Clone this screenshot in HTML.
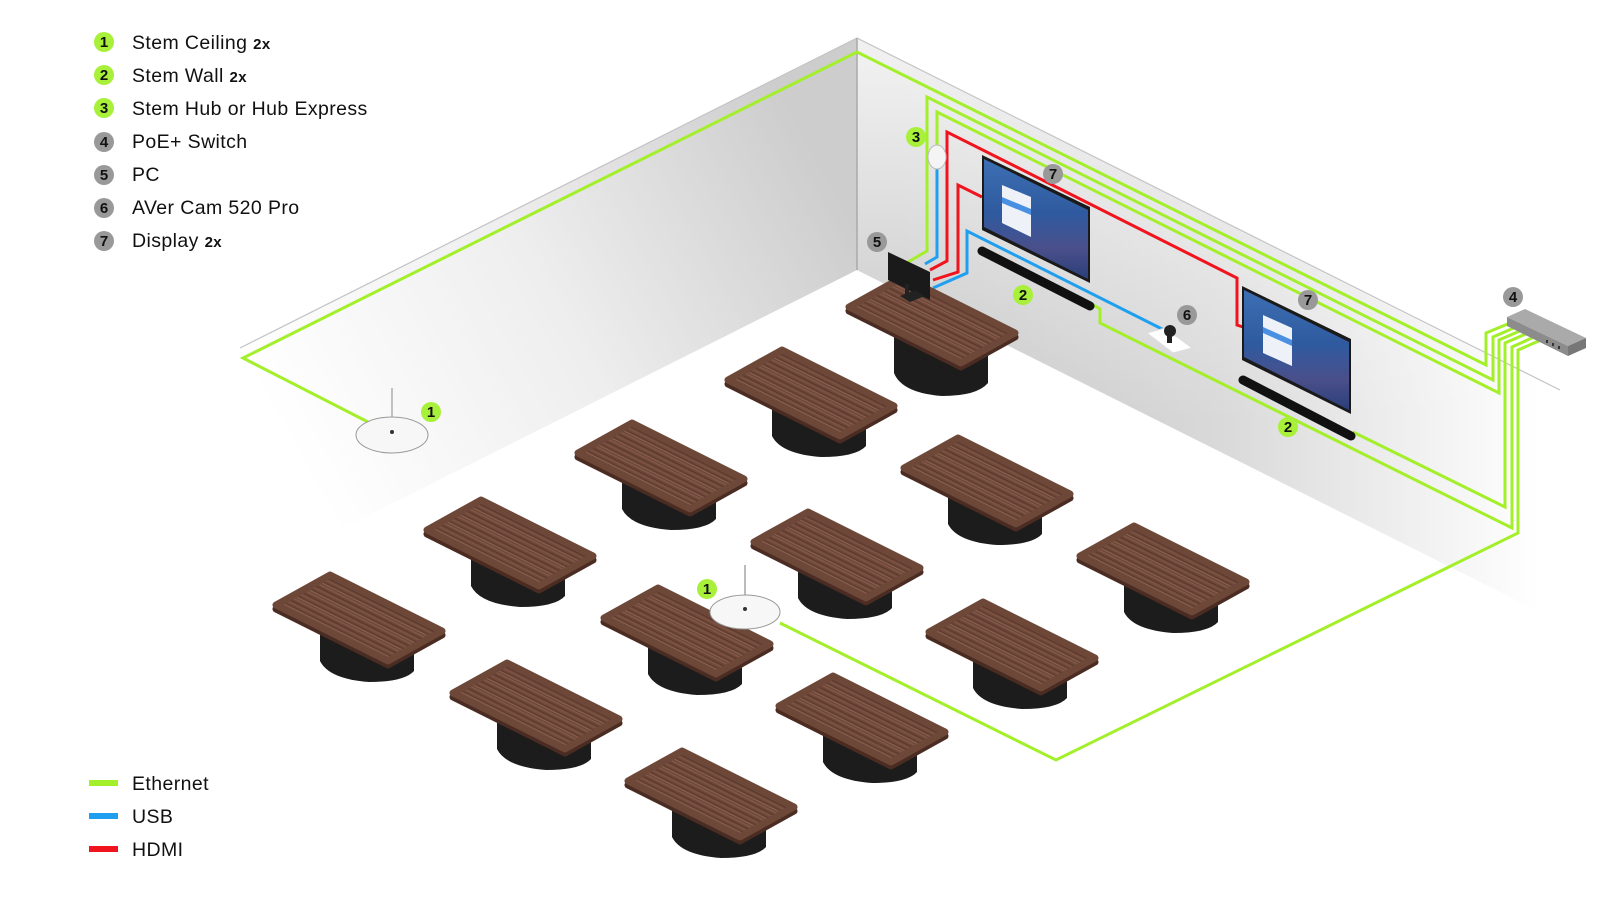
<!DOCTYPE html>
<html><head><meta charset="utf-8"><style>
html,body{margin:0;padding:0;background:#fff;}
svg{display:block;}
</style></head><body>
<svg width="1600" height="900" viewBox="0 0 1600 900" xmlns="http://www.w3.org/2000/svg" font-family="Liberation Sans, sans-serif">
<defs>
  <linearGradient id="lw" gradientUnits="userSpaceOnUse" x1="857" y1="230" x2="330" y2="520">
    <stop offset="0" stop-color="#cdcdcd"/><stop offset="0.5" stop-color="#eeeeee"/><stop offset="1" stop-color="#ffffff"/>
  </linearGradient>
  <linearGradient id="rw" gradientUnits="userSpaceOnUse" x1="900" y1="330" x2="1540" y2="330">
    <stop offset="0" stop-color="#c4c4c4"/><stop offset="0.5" stop-color="#d9d9d9"/><stop offset="1" stop-color="#ffffff"/>
  </linearGradient>
  <linearGradient id="rwTop" gradientUnits="userSpaceOnUse" x1="0" y1="60" x2="0" y2="420">
    <stop offset="0" stop-color="#fff" stop-opacity="0.75"/><stop offset="1" stop-color="#fff" stop-opacity="0"/>
  </linearGradient>
  <linearGradient id="scr" x1="0" y1="0" x2="0" y2="1">
    <stop offset="0" stop-color="#3d6fb3"/><stop offset="0.45" stop-color="#2f5aa0"/><stop offset="0.75" stop-color="#4a4f8a"/><stop offset="1" stop-color="#2a3f7a"/>
  </linearGradient>
  <pattern id="wood" patternUnits="userSpaceOnUse" width="40" height="12" patternTransform="rotate(26.6)">
    <rect width="40" height="12" fill="#6d4738"/>
    <rect y="1" width="40" height="1.2" fill="#85594a"/>
    <rect y="4" width="40" height="0.8" fill="#553428"/>
    <rect y="6" width="40" height="1.5" fill="#7d5242"/>
    <rect y="9" width="40" height="0.8" fill="#5a392c"/>
    <rect y="10.5" width="40" height="1" fill="#8b604f"/>
  </pattern>
  <g id="table">
    <path d="M -39,10 L -39,45 Q -30,63 10,66 Q 45,66 55,55 L 55,20 Z" fill="#1c1c1c"/>
    <path d="M -83,-11 L -29,-41 L 83,15 L 29,45 Z" transform="translate(0,4)" fill="#4a2c22" stroke="#4a2c22" stroke-width="7" stroke-linejoin="round"/>
    <path d="M -83,-11 L -29,-41 L 83,15 L 29,45 Z" fill="url(#wood)" stroke="#6d4738" stroke-width="7" stroke-linejoin="round"/>
  </g>
</defs>

<!-- walls -->
<polygon points="857,38 857,270 230,585 230,352" fill="url(#lw)"/>
<polygon points="857,38 1600,410 1600,642 857,270" fill="url(#rw)"/>
<polygon points="857,38 1600,410 1600,642 857,270" fill="url(#rwTop)"/>
<polyline points="240,348 857,38 1560,390" fill="none" stroke="#c4c4c4" stroke-width="1.2"/>
<line x1="857" y1="38" x2="857" y2="270" stroke="#aaa" stroke-width="1.5"/>

<!-- ethernet lines (green) -->
<g fill="none" stroke="#a3ef2a" stroke-width="3" stroke-linejoin="miter">
  <polyline points="368,422 243,358 857,52 1486,365 1486,333 1510,323"/>
  <polyline points="908,262 927,251 927,97 1493,380 1493,337 1516,327"/>
  <polyline points="937,146 937,112 1499,393 1499,340 1522,330"/>
  <polyline points="1353,432 1505,507 1505,343 1528,333"/>
  <polyline points="1090,303 1100,309 1100,323 1512,528 1512,347 1534,337"/>
  <polyline points="780,623 1056,760 1518,533 1518,350 1541,340"/>
</g>
<!-- HDMI -->
<g fill="none" stroke="#f0141e" stroke-width="3">
  <polyline points="930,270 947,261 947,132 1237,278 1237,325 1243,327"/>
  <polyline points="933,280 958,272 958,185 982,197"/>
</g>
<!-- USB -->
<g fill="none" stroke="#1e9ff0" stroke-width="3">
  <polyline points="937,168 937,257 925,264"/>
  <polyline points="933,288 967,273 967,231 1160,328 1166,331"/>
</g>

<!-- hub -->
<ellipse cx="937" cy="157" rx="9" ry="12" fill="#f4f4f4" stroke="#bbb" stroke-width="1"/>

<!-- display 1 -->
<polygon points="982,155 1090,207 1090,283 982,230" fill="#1a1a1a"/>
<polygon points="984,159 1088,210 1088,279 984,227" fill="url(#scr)"/>
<polygon points="1002,185 1031,197 1031,237 1002,223" fill="#eef2f8"/>
<polygon points="1002,197 1031,209 1031,215 1002,203" fill="#4a90e2"/>
<line x1="982" y1="251" x2="1090" y2="306" stroke="#111" stroke-width="9" stroke-linecap="round"/>

<!-- display 2 -->
<polygon points="1242,286 1351,339 1351,414 1242,360" fill="#1a1a1a"/>
<polygon points="1244,290 1349,342 1349,410 1244,357" fill="url(#scr)"/>
<polygon points="1263,315 1292,328 1292,366 1263,353" fill="#eef2f8"/>
<polygon points="1263,327 1292,340 1292,346 1263,333" fill="#4a90e2"/>
<line x1="1243" y1="380" x2="1351" y2="436" stroke="#111" stroke-width="9" stroke-linecap="round"/>

<!-- camera -->
<polygon points="1147,333 1165,328 1192,348 1173,353" fill="#fff" stroke="#ddd" stroke-width="1"/>
<ellipse cx="1170" cy="331" rx="6" ry="6" fill="#222"/>
<rect x="1167" y="335" width="5" height="8" fill="#222"/>

<!-- switch -->
<polygon points="1507,317 1525,309 1586,338 1568,346" fill="#aaaaaa"/>
<polygon points="1507,317 1568,346 1568,356 1507,326" fill="#8c8c8c"/>
<polygon points="1568,346 1586,338 1586,348 1568,356" fill="#777"/>
<g fill="#333">
  <rect x="1546" y="340" width="2" height="3"/><rect x="1552" y="343" width="2" height="3"/><rect x="1558" y="346" width="2" height="3"/>
</g>

<!-- ceiling mic 1 -->
<line x1="392" y1="388" x2="392" y2="432" stroke="#888" stroke-width="1"/>
<ellipse cx="392" cy="435" rx="36" ry="18" fill="#f7f7f7" stroke="#999" stroke-width="1"/>
<circle cx="392" cy="432" r="2" fill="#333"/>

<!-- PC table -->
<g transform="translate(932,318)">
  <path d="M -38,0 L -38,55 Q -30,75 10,78 Q 45,78 56,65 L 56,10 Z" fill="#1c1c1c"/>
  <path d="M -83,-11 L -29,-41 L 83,15 L 29,45 Z" transform="translate(0,4)" fill="#4a2c22" stroke="#4a2c22" stroke-width="7" stroke-linejoin="round"/>
  <path d="M -83,-11 L -29,-41 L 83,15 L 29,45 Z" fill="url(#wood)" stroke="#6d4738" stroke-width="7" stroke-linejoin="round"/>
</g>
<polygon points="888,252 930,272 930,300 888,280" fill="#1a1a1a"/>
<polygon points="900,296 915,290 925,296 910,302" fill="#222"/>
<rect x="905" y="284" width="4" height="12" fill="#222"/>

<!-- tables back to front -->
<use href="#table" x="811" y="391"/>
<use href="#table" x="661" y="464"/>
<use href="#table" x="987" y="479"/>
<use href="#table" x="510" y="541"/>
<use href="#table" x="837" y="553"/>
<use href="#table" x="1163" y="567"/>
<use href="#table" x="359" y="616"/>
<use href="#table" x="687" y="629"/>
<use href="#table" x="1012" y="643"/>
<use href="#table" x="536" y="704"/>
<use href="#table" x="862" y="717"/>
<use href="#table" x="711" y="792"/>

<!-- ceiling mic 2 -->
<line x1="745" y1="565" x2="745" y2="607" stroke="#777" stroke-width="1"/>
<ellipse cx="745" cy="612" rx="35" ry="17" fill="#f7f7f7" stroke="#999" stroke-width="1"/>
<circle cx="745" cy="609" r="2" fill="#333"/>

<!-- callout bubbles -->
<g font-weight="bold" font-size="15" text-anchor="middle">
  <g fill="#a8f03a">
    <circle cx="916" cy="137" r="10"/><circle cx="1023" cy="295" r="10"/><circle cx="1288" cy="427" r="10"/>
    <circle cx="431" cy="412" r="10"/><circle cx="707" cy="589" r="10"/>
  </g>
  <g fill="#999">
    <circle cx="877" cy="242" r="10"/><circle cx="1053" cy="174" r="10"/><circle cx="1187" cy="315" r="10"/>
    <circle cx="1308" cy="300" r="10"/><circle cx="1513" cy="297" r="10"/>
  </g>
  <g fill="#111">
    <text x="916" y="142">3</text><text x="1023" y="300">2</text><text x="1288" y="432">2</text>
    <text x="431" y="417">1</text><text x="707" y="594">1</text>
    <text x="877" y="247">5</text><text x="1053" y="179">7</text><text x="1187" y="320">6</text>
    <text x="1308" y="305">7</text><text x="1513" y="302">4</text>
  </g>
</g>

<!-- legend -->
<g font-size="15" font-weight="bold" text-anchor="middle">
  <circle cx="104" cy="42" r="10" fill="#a8f03a"/><text x="104" y="47" fill="#111">1</text>
  <circle cx="104" cy="75" r="10" fill="#a8f03a"/><text x="104" y="80" fill="#111">2</text>
  <circle cx="104" cy="108" r="10" fill="#a8f03a"/><text x="104" y="113" fill="#111">3</text>
  <circle cx="104" cy="142" r="10" fill="#999"/><text x="104" y="147" fill="#111">4</text>
  <circle cx="104" cy="175" r="10" fill="#999"/><text x="104" y="180" fill="#111">5</text>
  <circle cx="104" cy="208" r="10" fill="#999"/><text x="104" y="213" fill="#111">6</text>
  <circle cx="104" cy="241" r="10" fill="#999"/><text x="104" y="246" fill="#111">7</text>
</g>
<g font-size="19.5" fill="#111" letter-spacing="0.4">
  <text x="132" y="49">Stem Ceiling <tspan font-size="15" font-weight="bold">2x</tspan></text>
  <text x="132" y="82">Stem Wall <tspan font-size="15" font-weight="bold">2x</tspan></text>
  <text x="132" y="115">Stem Hub or Hub Express</text>
  <text x="132" y="148">PoE+ Switch</text>
  <text x="132" y="181">PC</text>
  <text x="132" y="214">AVer Cam 520 Pro</text>
  <text x="132" y="247">Display <tspan font-size="15" font-weight="bold">2x</tspan></text>
</g>
<rect x="89" y="780" width="29" height="6" fill="#a3ef2a"/>
<rect x="89" y="813" width="29" height="6" fill="#1e9ff0"/>
<rect x="89" y="846" width="29" height="6" fill="#f0141e"/>
<g font-size="19.5" fill="#111" letter-spacing="0.4">
  <text x="132" y="790">Ethernet</text>
  <text x="132" y="823">USB</text>
  <text x="132" y="856">HDMI</text>
</g>
</svg>
</body></html>
